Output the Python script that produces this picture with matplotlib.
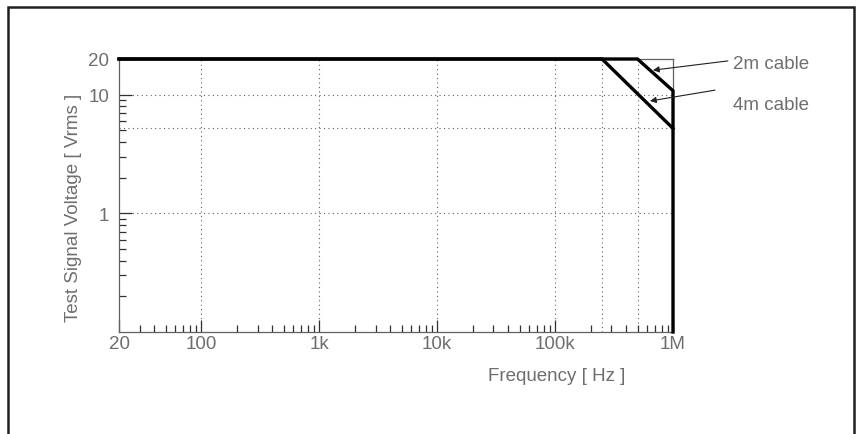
import matplotlib
matplotlib.use("Agg")
from matplotlib import pyplot as plt
from matplotlib.patches import Rectangle
from matplotlib.ticker import FixedLocator, LogLocator, NullFormatter

# frequency / voltage breakpoints
freq_2m = [20, 500e3, 1e6, 1e6]
volt_2m = [20, 20, 10.8, 0.1]
freq_4m = [20, 250e3, 1e6]
volt_4m = [20, 20, 5.2]

x_ticks = [20, 100, 1e3, 1e4, 1e5, 1e6]
x_labels = ['20', '100', '1k', '10k', '100k', '1M']
y_ticks = [1, 10, 20]
y_labels = ['1', '10', '20']
x_grid = [100, 1e3, 1e4, 1e5, 250e3, 500e3]
y_grid = [1, 5.2, 10]

gray = '#606060'
text_gray = '#6e6e6e'
plt.rcParams['font.family'] = ['Liberation Sans', 'DejaVu Sans']

fig = plt.figure(figsize=(8.56, 4.35), dpi=100)
ax = fig.add_axes([119 / 856, 102 / 435, 554 / 856, 273 / 435])

# outer frame (bottom edge runs off the picture)
fig.patches.append(Rectangle((8 / 856, -0.1), 846 / 856, 0.1 + 427 / 435,
                             transform=fig.transFigure, fill=False,
                             edgecolor='#202020', linewidth=1.8))

ax.set_xscale('log')
ax.set_yscale('log')
ax.set_xlim(20, 1e6)
ax.set_ylim(0.1, 20)

for g in x_grid:
    ax.axvline(g, color=gray, linestyle=(0, (1, 3)), linewidth=0.8, zorder=1)
for g in y_grid:
    ax.axhline(g, color=gray, linestyle=(0, (1, 3)), linewidth=0.8, zorder=1)

ax.plot(freq_2m, volt_2m, color='black', linewidth=2.4, zorder=3,
        solid_joinstyle='miter', clip_on=False)
ax.plot(freq_4m, volt_4m, color='black', linewidth=2.4, zorder=3,
        solid_joinstyle='miter', clip_on=False)

for sp in ax.spines.values():
    sp.set_color(gray)
    sp.set_linewidth(0.9)

ax.xaxis.set_major_locator(FixedLocator(x_ticks))
ax.set_xticklabels(x_labels)
ax.xaxis.set_minor_locator(LogLocator(base=10, subs=range(2, 10)))
ax.xaxis.set_minor_formatter(NullFormatter())
ax.yaxis.set_major_locator(FixedLocator(y_ticks))
ax.set_yticklabels(y_labels)
ax.yaxis.set_minor_locator(LogLocator(base=10, subs=range(2, 10)))
ax.yaxis.set_minor_formatter(NullFormatter())

ax.tick_params(which='major', direction='in', length=9, width=0.9,
               color='#303030', labelcolor=text_gray, labelsize=13.5)
ax.tick_params(which='minor', direction='in', length=5, width=0.9,
               color='#303030')
ax.tick_params(axis='x', which='major', pad=2)
ax.tick_params(axis='y', which='major', pad=7)

ax.set_xlabel('Frequency [ Hz ]', color=text_gray, fontsize=13.5, va='top')
ax.xaxis.set_label_coords(0.79, -0.13)
ax.set_ylabel('Test Signal Voltage [ Vrms ]', color=text_gray, fontsize=13.5)
ax.yaxis.set_label_coords(-0.067, 0.46)

# cable labels with pointer arrows
ax.text(1.108, 0.985, '2m cable', transform=ax.transAxes, color=text_gray,
        fontsize=13.5, va='center', ha='left')
ax.text(1.108, 0.835, '4m cable', transform=ax.transAxes, color=text_gray,
        fontsize=13.5, va='center', ha='left')
ax.annotate('', xy=(676e3, 16.1), xycoords='data',
            xytext=(1.099, 0.993), textcoords='axes fraction',
            arrowprops=dict(arrowstyle='-|>', color='#202020', lw=0.8,
                            mutation_scale=9, shrinkA=0, shrinkB=0),
            annotation_clip=False)
ax.annotate('', xy=(638e3, 8.85), xycoords='data',
            xytext=(1.076, 0.886), textcoords='axes fraction',
            arrowprops=dict(arrowstyle='-|>', color='#202020', lw=0.8,
                            mutation_scale=9, shrinkA=0, shrinkB=0),
            annotation_clip=False)

fig.savefig('out.png', dpi=100)
